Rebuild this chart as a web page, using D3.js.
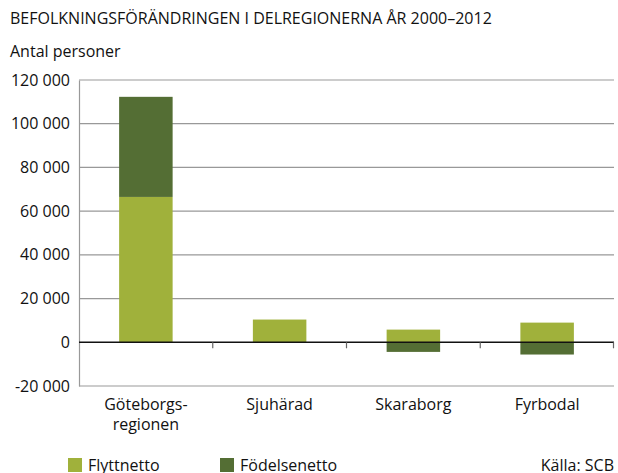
<!DOCTYPE html>
<html>
<head>
<meta charset="utf-8">
<script src="https://cdn.jsdelivr.net/npm/d3@7"></script>
<style>
  body { margin: 0; background: #fff; }
  text { font-family: "Open Sans", sans-serif; fill: #111; }
</style>
</head>
<body>
<div id="chart-area"></div>
<script>
//============================DATA============================
var categories = ["Göteborgs-\nregionen", "Sjuhärad", "Skaraborg", "Fyrbodal"];
var flyttnetto = [66500, 10400, 5800, 9000];
var fodelsenetto = [45800, -100, -4400, -5600];
var yTicks = [-20000, 0, 20000, 40000, 60000, 80000, 100000, 120000];
var seriesNames = ["Flyttnetto", "Födelsenetto"];
var colors = ["#a0b13b", "#546e34"];

//============================LAYOUT============================
var W = 618, H = 473;
var margins = { left: 79, right: 4, top: 80, bottom: 87 };
var width = W - margins.left - margins.right;
var height = H - margins.top - margins.bottom;

var svg = d3.select("#chart-area").append("svg")
    .attr("width", W).attr("height", H);

svg.append("text").attr("x", 10).attr("y", 24)
    .attr("font-size", "16px")
    .text("BEFOLKNINGSFÖRÄNDRINGEN I DELREGIONERNA ÅR 2000–2012");

svg.append("text").attr("x", 10).attr("y", 57)
    .attr("font-size", "16px")
    .text("Antal personer");

var g = svg.append("g")
    .attr("transform", "translate(" + margins.left + "," + margins.top + ")");

var x = d3.scaleBand().domain(categories).range([0, width])
    .paddingInner(0.6).paddingOuter(0.3);
var y = d3.scaleLinear().domain([-20000, 120000]).range([height, 0]);

// gridlines
g.selectAll("line.grid").data(yTicks.filter(function(d){ return d !== 0; }))
  .enter().append("line")
    .attr("class", "grid")
    .attr("x1", 0).attr("x2", width)
    .attr("y1", function(d){ return y(d); }).attr("y2", function(d){ return y(d); })
    .attr("stroke", "#999").attr("stroke-width", 1.2);

// y axis
var yAxis = d3.axisLeft(y).tickValues(yTicks).tickSize(0).tickPadding(9)
    .tickFormat(function(d){ return d3.format(",")(d).replace(/,/g, " ").replace("−", "-"); });
var ya = g.append("g").call(yAxis);
ya.select(".domain").attr("stroke", "#999").attr("stroke-width", 1.2);
ya.selectAll("text").attr("font-size", "16px").attr("font-family", "Open Sans, sans-serif").attr("fill", "#111");

// bars
var stacks = categories.map(function(c, i){
    var f = flyttnetto[i], b = fodelsenetto[i];
    var segs = [];
    // flyttnetto from 0
    segs.push({ c: c, s: 0, y0: 0, y1: f });
    // fodelsenetto on top if positive, below zero if negative
    if (b >= 0) segs.push({ c: c, s: 1, y0: f, y1: f + b });
    else segs.push({ c: c, s: 1, y0: 0, y1: b });
    return segs;
});
g.selectAll("rect.bar").data(d3.merge(stacks)).enter().append("rect")
    .attr("class", "bar")
    .attr("x", function(d){ return x(d.c); })
    .attr("width", x.bandwidth())
    .attr("y", function(d){ return y(Math.max(d.y0, d.y1)); })
    .attr("height", function(d){ return Math.abs(y(d.y0) - y(d.y1)); })
    .attr("fill", function(d){ return colors[d.s]; });

// zero axis with ticks at band boundaries
var xa = g.append("g").attr("transform", "translate(0," + y(0) + ")");
xa.append("line").attr("x1", 0).attr("x2", width).attr("stroke", "#111").attr("stroke-width", 1.6);
xa.selectAll("line.tk").data(d3.range(1, categories.length + 1)).enter().append("line")
    .attr("class", "tk")
    .attr("x1", function(i){ return Math.min(i * width / categories.length, width - 0.5); })
    .attr("x2", function(i){ return Math.min(i * width / categories.length, width - 0.5); })
    .attr("y1", 0).attr("y2", 6)
    .attr("stroke", "#666").attr("stroke-width", 1.2);

// category labels
categories.forEach(function(c){
    var lines = c.split("\n");
    var t = g.append("text")
        .attr("x", x(c) + x.bandwidth() / 2)
        .attr("y", height + 24)
        .attr("text-anchor", "middle")
        .attr("font-size", "16px");
    lines.forEach(function(l, k){
        t.append("tspan").attr("x", x(c) + x.bandwidth() / 2)
            .attr("dy", k === 0 ? 0 : 20).text(l);
    });
});

// legend
var legX = [68, 220];
seriesNames.forEach(function(n, i){
    svg.append("rect").attr("x", legX[i]).attr("y", 458).attr("width", 14).attr("height", 14)
        .attr("fill", colors[i]);
    svg.append("text").attr("x", legX[i] + 20).attr("y", 471)
        .attr("font-size", "16px").text(n);
});
svg.append("text").attr("x", 614).attr("y", 471).attr("text-anchor", "end")
    .attr("font-size", "16px").text("Källa: SCB");
</script>
</body>
</html>
